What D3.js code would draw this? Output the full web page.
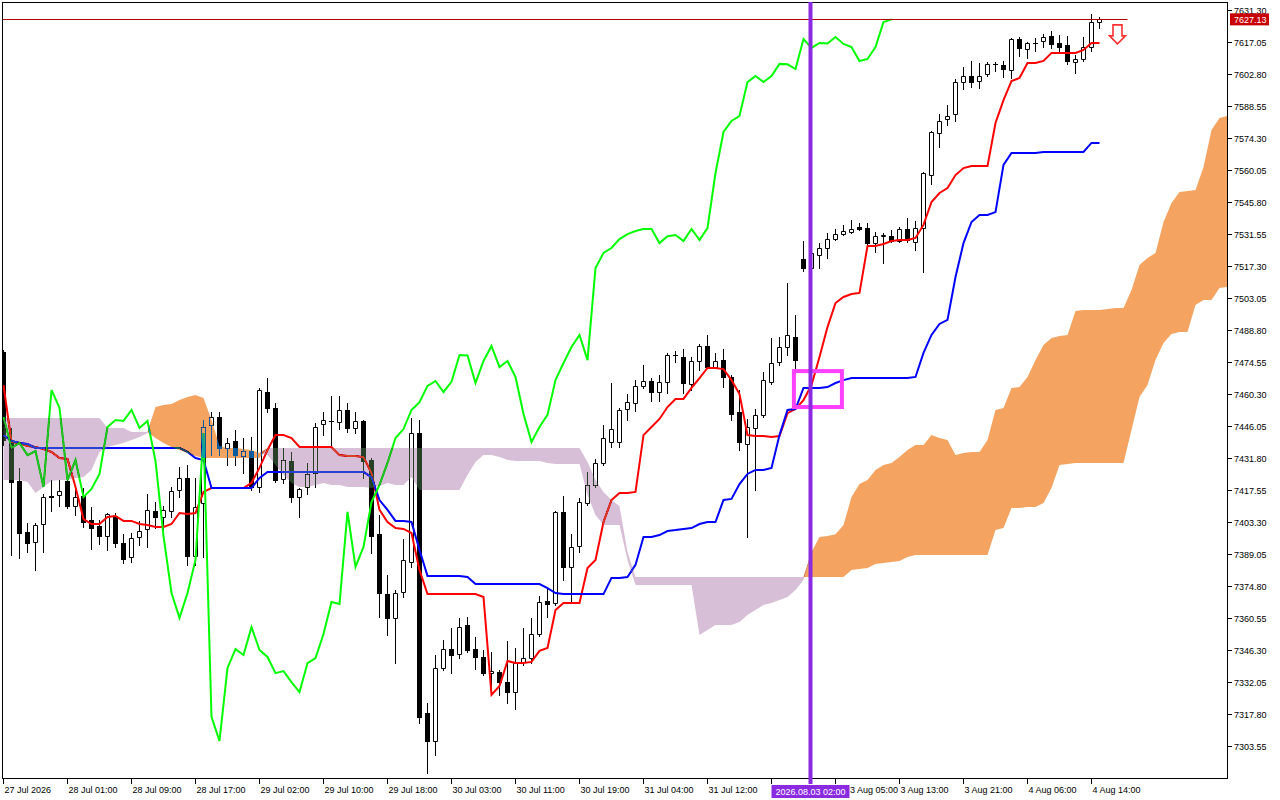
<!DOCTYPE html>
<html><head><meta charset="utf-8">
<script src="https://cdn.jsdelivr.net/npm/d3@7"></script>
<style>
html,body{margin:0;padding:0;background:#fff;}
svg{display:block;}
text{font-family:"Liberation Sans","DejaVu Sans",sans-serif;font-size:9px;fill:#000;}
</style></head><body>
<svg id="chart" width="1280" height="800"></svg>
<script>
// ---------- DATA (hourly candles, bar index 0..137) ----------
const opens = [7479.0,7439.8,7421.6,7398.8,7394.4,7402.4,7414.9,7415.3,7421.6,7410.4,
7414.9,7404.2,7401.5,7397.1,7406.0,7394.0,7387.7,7396.6,7400.2,7408.2,
7405.5,7408.2,7417.6,7422.9,7388.2,7411.8,7446.5,7450.1,7436.3,7439.4,
7432.7,7434.9,7418.9,7461.2,7454.1,7422.4,7430.5,7414.4,7418.9,7425.1,
7446.9,7448.5,7447.8,7453.2,7445.2,7448.3,7430.9,7397.9,7371.2,7360.6,
7372.1,7385.5,7442.9,7318.3,7305.8,7338.3,7346.7,7344.5,7357.4,7346.7,
7343.2,7336.0,7336.5,7332.0,7327.6,7341.0,7342.7,7353.4,7368.1,7367.2,
7407.8,7383.3,7392.6,7411.8,7419.8,7429.6,7438.9,7438.9,7453.6,7456.3,
7463.9,7466.1,7461.2,7465.7,7477.7,7476.8,7464.8,7475.0,7481.7,7472.3,
7475.4,7467.9,7452.3,7438.0,7445.2,7451.0,7465.7,7474.5,7481.2,7485.7,
7520.4,7516.4,7522.2,7525.3,7529.3,7531.5,7532.4,7534.7,7534.2,7527.5,
7530.6,7530.6,7528.4,7533.8,7528.0,7534.2,7557.8,7576.5,7582.7,7585.0,
7599.2,7601.9,7599.7,7602.8,7607.3,7606.8,7604.6,7618.4,7613.9,7616.6,
7617.5,7619.7,7616.6,7615.7,7608.1,7609.5,7614.8,7626.0];
const highs = [7479.9,7445.2,7427.4,7402.9,7403.0,7415.8,7422.0,7422.0,7422.9,7418.4,
7418.4,7410.0,7404.2,7407.3,7407.3,7397.9,7398.4,7403.8,7415.8,7412.2,
7410.4,7418.9,7427.8,7428.7,7422.9,7448.7,7452.3,7452.3,7440.7,7444.3,
7440.7,7441.2,7463.0,7467.4,7456.3,7436.3,7434.5,7418.4,7429.6,7447.4,
7452.3,7459.4,7459.4,7456.3,7452.3,7448.7,7431.8,7406.4,7379.7,7373.0,
7395.7,7449.6,7448.7,7322.7,7344.1,7350.7,7356.1,7360.6,7361.0,7352.1,
7346.3,7345.4,7337.4,7350.3,7347.2,7356.1,7360.6,7370.3,7373.5,7408.2,
7414.9,7397.9,7414.0,7425.6,7431.3,7446.5,7465.2,7454.1,7460.3,7466.5,
7473.2,7467.4,7468.8,7478.6,7479.4,7480.3,7476.8,7482.6,7486.6,7478.6,
7480.3,7468.8,7462.1,7449.2,7453.6,7470.1,7485.2,7485.7,7509.7,7495.5,
7528.4,7526.0,7527.5,7532.0,7533.8,7535.6,7537.8,7536.4,7536.4,7532.4,
7532.0,7533.3,7534.7,7538.7,7537.3,7559.2,7577.2,7585.0,7589.0,7600.6,
7605.9,7608.6,7607.7,7608.1,7608.1,7608.6,7618.8,7619.3,7617.0,7618.8,
7620.6,7621.9,7620.2,7619.7,7611.2,7619.3,7629.5,7628.2];
const lows = [7437.6,7388.6,7387.3,7389.9,7381.9,7389.9,7408.2,7410.4,7409.5,7406.4,
7401.1,7391.3,7393.5,7390.8,7392.2,7385.0,7385.5,7393.1,7392.2,7400.6,
7398.8,7405.5,7414.4,7384.1,7384.1,7387.7,7433.1,7433.1,7428.7,7428.7,
7425.1,7417.6,7416.7,7452.3,7421.1,7420.7,7412.2,7405.5,7415.8,7418.9,
7442.1,7436.7,7444.7,7443.4,7442.9,7422.9,7389.5,7361.0,7353.0,7340.5,
7369.9,7383.3,7313.8,7291.5,7299.5,7337.4,7336.0,7342.7,7345.4,7337.8,
7335.2,7327.6,7326.2,7322.7,7320.0,7339.6,7340.5,7352.5,7361.0,7366.3,
7377.5,7367.2,7389.9,7410.9,7418.9,7428.7,7436.7,7436.7,7448.7,7452.7,
7463.0,7457.2,7457.2,7460.8,7474.5,7460.8,7462.1,7471.0,7471.9,7471.9,
7463.4,7448.7,7435.4,7396.6,7417.6,7450.1,7464.8,7473.2,7477.7,7471.9,
7515.1,7514.0,7516.4,7520.9,7529.0,7531.1,7532.0,7533.3,7527.1,7523.5,
7518.6,7528.0,7528.0,7528.0,7524.4,7514.6,7553.8,7570.3,7580.1,7581.9,
7596.1,7597.0,7596.6,7601.9,7604.1,7601.5,7601.0,7610.8,7609.9,7613.0,
7614.8,7614.4,7612.2,7607.3,7603.2,7608.6,7613.0,7623.3];
const closes = [7439.8,7421.1,7398.4,7394.0,7402.0,7414.4,7414.4,7417.1,7410.4,7414.4,
7403.3,7400.6,7397.1,7406.9,7394.0,7386.8,7396.2,7399.3,7408.7,7405.5,
7408.7,7417.1,7422.9,7388.2,7410.0,7445.6,7450.1,7436.3,7438.5,7433.1,
7434.9,7418.9,7462.1,7454.1,7422.0,7430.9,7414.4,7418.0,7424.7,7445.6,
7448.7,7448.3,7453.2,7445.2,7448.3,7430.5,7397.1,7371.7,7360.6,7371.7,
7386.4,7442.9,7316.5,7305.8,7338.3,7346.7,7344.1,7356.5,7346.3,7343.2,
7336.0,7336.9,7332.0,7327.6,7340.5,7342.7,7353.4,7367.7,7366.8,7407.8,
7383.3,7392.2,7412.2,7419.8,7429.6,7440.7,7444.7,7453.2,7456.7,7463.9,
7466.1,7461.2,7465.7,7477.7,7477.5,7465.2,7475.0,7481.7,7472.3,7475.0,
7467.9,7451.4,7438.9,7445.6,7451.0,7466.5,7474.1,7481.2,7486.6,7475.4,
7516.4,7523.1,7525.3,7529.3,7531.5,7532.9,7533.8,7533.8,7527.5,7530.6,
7531.1,7528.4,7533.8,7528.9,7534.2,7558.7,7577.0,7581.9,7584.1,7599.2,
7601.9,7599.2,7601.9,7607.3,7607.1,7605.0,7618.4,7614.4,7616.6,7616.4,
7619.3,7616.2,7614.8,7608.6,7609.5,7614.8,7625.9,7627.13];

// Ichimoku lines
const tenkan = [7464.3,7438.9,7438.5,7437.1,7436.7,7435.8,7434.5,7431.8,7431.4,7418.9,
7404.6,7402.4,7402.4,7405.5,7406.0,7403.8,7403.8,7402.4,7402.0,7401.1,
7401.1,7402.4,7407.3,7406.9,7407.3,7416.7,7418.4,7418.4,7418.4,7418.4,
7418.4,7420.7,7427.4,7435.4,7442.0,7442.0,7440.7,7436.7,7436.7,7436.7,
7436.7,7436.7,7433.1,7432.7,7432.7,7432.2,7425.1,7408.7,7403.3,7400.6,
7400.2,7398.4,7381.9,7371.2,7371.2,7371.2,7371.2,7371.2,7371.2,7371.2,
7369.9,7326.3,7330.3,7341.4,7340.5,7340.5,7341.0,7345.9,7347.2,7364.1,
7367.2,7367.2,7367.2,7382.8,7386.4,7403.3,7413.1,7416.2,7416.2,7416.7,
7442.0,7445.6,7449.2,7454.5,7458.1,7458.1,7463.0,7467.4,7471.9,7471.9,
7471.4,7466.5,7460.3,7442.0,7441.6,7441.6,7441.2,7441.6,7451.8,7453.6,
7457.6,7464.3,7476.8,7490.1,7500.8,7503.5,7504.8,7505.3,7526.2,7526.2,
7527.1,7528.4,7528.9,7528.9,7529.8,7535.6,7545.8,7549.8,7552.0,7557.8,
7560.9,7561.8,7561.8,7561.8,7581.0,7591.2,7599.7,7601.0,7607.7,7607.7,
7608.6,7612.2,7612.2,7612.2,7612.2,7613.5,7616.6,7616.6];
const kijun = [7442.0,7439.4,7438.5,7438.0,7436.3,7436.3,7436.3,7436.3,7436.3,7436.3,
7436.3,7436.3,7436.3,7436.3,7436.3,7436.3,7436.3,7436.3,7436.3,7436.3,
7436.3,7436.3,7436.3,7434.5,7431.8,7430.9,7418.4,7418.4,7418.4,7418.4,
7418.4,7418.4,7422.9,7425.6,7425.6,7425.6,7425.6,7425.6,7425.6,7425.6,
7425.6,7425.6,7425.6,7425.6,7425.6,7425.6,7423.3,7413.1,7408.7,7403.8,
7403.8,7403.3,7390.8,7379.3,7379.3,7379.3,7379.3,7379.3,7378.8,7375.7,
7375.7,7375.7,7375.7,7375.7,7375.7,7375.7,7375.7,7375.7,7373.9,7371.7,
7371.2,7371.2,7371.2,7371.2,7371.2,7371.2,7378.4,7378.4,7378.8,7384.2,
7396.6,7396.6,7397.5,7399.3,7399.7,7400.2,7400.6,7402.4,7403.3,7403.3,
7413.1,7413.6,7420.2,7424.7,7426.5,7426.5,7427.4,7442.0,7453.2,7453.6,
7463.0,7463.0,7463.0,7463.4,7465.2,7466.5,7467.4,7467.4,7467.4,7467.4,
7467.4,7467.4,7467.4,7467.4,7467.9,7478.6,7486.6,7491.5,7493.3,7512.4,
7527.5,7536.9,7540.0,7540.0,7541.3,7562.3,7567.6,7567.6,7567.6,7567.6,
7568.1,7568.1,7568.1,7568.1,7568.1,7568.1,7572.1,7572.1];
// Senkou spans, already placed on the bar where they are drawn (index 0..153)
const spanA = [7422.0,7422.0,7422.0,7421.1,7416.2,7418.9,7421.6,7422.0,7422.0,7422.9,
7423.3,7426.5,7434.5,7436.7,7437.6,7438.5,7439.8,7441.2,7442.9,7454.5,
7455.4,7455.9,7457.6,7459.0,7459.9,7458.5,7448.7,7437.1,7436.3,7436.3,
7435.8,7435.4,7434.0,7433.1,7428.7,7424.2,7420.7,7418.9,7418.9,7419.8,
7420.7,7419.8,7419.8,7418.9,7418.9,7418.9,7418.4,7419.3,7420.7,7419.8,
7419.8,7423.3,7417.6,7417.6,7417.6,7417.6,7417.6,7417.6,7424.2,7430.0,
7433.1,7433.1,7432.2,7430.9,7430.5,7430.5,7430.5,7430.5,7429.6,7429.1,
7429.1,7429.1,7429.1,7415.3,7406.4,7402.0,7402.0,7402.0,7386.4,7375.3,
7375.3,7375.3,7375.3,7375.3,7375.3,7375.3,7375.3,7353.0,7355.2,7357.4,
7357.4,7357.4,7358.8,7361.9,7364.1,7366.3,7367.2,7368.6,7369.9,7373.0,
7377.5,7389.9,7396.6,7397.1,7397.9,7402.0,7414.4,7420.2,7422.0,7426.5,
7428.7,7429.6,7432.2,7435.4,7437.6,7437.6,7442.0,7440.7,7439.8,7433.1,
7434.0,7434.5,7434.5,7439.8,7453.2,7454.1,7463.0,7463.4,7467.9,7475.4,
7482.1,7485.2,7486.1,7486.6,7497.3,7497.7,7497.7,7497.7,7498.2,7498.6,
7498.6,7506.6,7517.7,7520.9,7523.1,7536.9,7545.4,7550.3,7550.7,7551.1,
7561.4,7577.9,7583.2,7584.1];
const spanB = [7449.6,7449.6,7449.6,7449.6,7449.6,7449.6,7449.6,7449.6,7449.6,7449.6,
7449.6,7449.6,7449.6,7445.2,7445.2,7445.2,7443.4,7443.4,7443.4,7440.7,
7438.5,7436.7,7435.4,7434.0,7432.7,7431.8,7431.8,7431.8,7431.8,7431.8,
7431.8,7431.8,7431.8,7436.3,7436.3,7436.3,7436.3,7436.3,7436.3,7436.3,
7436.3,7436.3,7436.3,7436.3,7436.3,7436.3,7436.3,7436.3,7436.3,7436.3,
7436.3,7436.3,7436.3,7436.3,7436.3,7436.3,7436.3,7436.3,7436.3,7436.3,
7436.3,7436.3,7436.3,7436.3,7436.3,7436.3,7436.3,7436.3,7436.3,7436.3,
7436.3,7436.3,7436.3,7430.0,7422.0,7416.7,7413.1,7410.4,7389.9,7378.8,
7378.8,7378.8,7378.8,7378.8,7378.8,7378.8,7378.8,7378.8,7378.8,7378.8,
7378.8,7378.8,7378.8,7378.8,7378.8,7378.8,7378.8,7378.8,7378.8,7378.8,
7378.8,7378.8,7378.8,7378.8,7378.8,7378.8,7381.9,7382.4,7382.8,7384.6,
7385.0,7385.5,7385.9,7387.7,7388.6,7388.6,7388.6,7388.6,7388.6,7388.6,
7388.6,7388.6,7388.6,7388.6,7399.7,7400.6,7409.5,7409.5,7410.0,7410.0,
7411.8,7418.4,7428.7,7429.1,7429.6,7429.6,7429.6,7429.6,7429.6,7429.6,
7429.6,7444.3,7459.0,7464.3,7475.4,7483.0,7487.0,7487.9,7487.9,7499.9,
7502.2,7502.2,7507.5,7508.0];
const chikouShift = 26;

const priceTicks = [7631.30,7617.05,7602.80,7588.55,7574.30,7560.05,7545.80,7531.55,7517.30,7503.05,
7488.80,7474.55,7460.30,7446.05,7431.80,7417.55,7403.30,7389.05,7374.80,7360.55,
7346.30,7332.05,7317.80,7303.55];
// tick at bar 96 exists in the terminal, but its label is fully covered by the marker label
const timeTickBars = [0,8,16,24,32,40,48,56,64,72,80,88,96,104,112,120,128,136];
const timeTickLabels = ["27 Jul 2026","28 Jul 01:00","28 Jul 09:00","28 Jul 17:00","29 Jul 02:00",
"29 Jul 10:00","29 Jul 18:00","30 Jul 03:00","30 Jul 11:00","30 Jul 19:00","31 Jul 04:00",
"31 Jul 12:00","","3 Aug 05:00","3 Aug 13:00","3 Aug 21:00","4 Aug 06:00","4 Aug 14:00"];
const lastPrice = 7627.13;
const priceLineEndBar = 140.5;
const markerBar = 101;
const markerLabel = "2026.08.03 02:00";
const boxBars = [98.8, 104.8];
const boxPrices = [7470.5, 7454.5];
const arrowBar = 139.25;
const arrowPrice = 7616.2;

// ---------- LAYOUT ----------
const plot = {left:2, top:2, right:1227, bottom:778};
const yDomain = [7289.31, 7635.75];
const svg = d3.select('#chart');
const x = d3.scaleLinear().domain([0,1]).range([3.5, 11.5]);
const y = d3.scaleLinear().domain(yDomain).range([plot.bottom, 0]);

svg.append('rect').attr('width',1280).attr('height',800).attr('fill','#fff');
svg.append('defs').append('clipPath').attr('id','clip').append('rect')
  .attr('x',plot.left).attr('y',plot.top)
  .attr('width',plot.right-plot.left).attr('height',plot.bottom-plot.top);

const g = svg.append('g').attr('clip-path','url(#clip)');
// white backdrop inside the (isolated) clipped group so the blend has something to act on
g.append('rect').attr('x',plot.left).attr('y',plot.top)
  .attr('width',plot.right-plot.left).attr('height',plot.bottom-plot.top).attr('fill','#fff');

// candles
const bars = closes.map((c,i)=>({i,o:opens[i],h:highs[i],l:lows[i],c}));
g.append('g').selectAll('line').data(bars).join('line')
  .attr('x1',d=>x(d.i)).attr('x2',d=>x(d.i))
  .attr('y1',d=>Math.round(y(d.h))).attr('y2',d=>Math.round(y(d.l))+1)
  .attr('stroke','#000').attr('stroke-width',1);
const bodies = g.append('g');
bars.forEach(d=>{
  const yo=Math.round(y(d.o)), yc=Math.round(y(d.c));
  const top=Math.min(yo,yc), bot=Math.max(yo,yc);
  const cx=x(d.i);
  if (d.c>=d.o) {
    bodies.append('path')
      .attr('d',`M${cx-2},${top+0.5}H${cx+2}V${bot+0.5}H${cx-2}Z`)
      .attr('fill','#fff').attr('stroke','#000').attr('stroke-width',1);
  } else {
    bodies.append('rect').attr('x',cx-2.5).attr('y',top)
      .attr('width',5).attr('height',bot-top+1).attr('fill','#000');
  }
});

// Ichimoku lines
const line = d3.line().x(d=>x(d[0])).y(d=>y(d[1]));
g.append('path').datum(tenkan.map((v,i)=>[i,v])).attr('d',line)
  .attr('fill','none').attr('stroke','#ff0000').attr('stroke-width',2);
g.append('path').datum(kijun.map((v,i)=>[i,v])).attr('d',line)
  .attr('fill','none').attr('stroke','#0000ff').attr('stroke-width',2);
const chikou = d3.range(closes.length-chikouShift).map(j=>[j, closes[j+chikouShift]]);
g.append('path').datum(chikou).attr('d',line)
  .attr('fill','none').attr('stroke','#00ff00').attr('stroke-width',2);

// Kumo (drawn with difference blend, like the terminal's XOR fill)
const idx = d3.range(spanA.length);
const upArea = d3.area().x(i=>x(i)).y0(i=>y(spanB[i])).y1(i=>y(Math.max(spanA[i],spanB[i])));
const dnArea = d3.area().x(i=>x(i)).y0(i=>y(spanA[i])).y1(i=>y(Math.max(spanA[i],spanB[i])));
g.append('path').datum(idx).attr('d',upArea).attr('fill','#0b5b9f')
  .style('mix-blend-mode','difference');
g.append('path').datum(idx).attr('d',dnArea).attr('fill','#274027')
  .style('mix-blend-mode','difference');

// current price line
const yLast = Math.round(y(lastPrice))+0.5;
g.append('line').attr('x1',plot.left).attr('x2',x(priceLineEndBar))
  .attr('y1',yLast).attr('y2',yLast).attr('stroke','#b40000').attr('stroke-width',1);

// rectangle annotation
g.append('rect')
  .attr('x',x(boxBars[0])).attr('y',y(boxPrices[0]))
  .attr('width',x(boxBars[1])-x(boxBars[0])).attr('height',y(boxPrices[1])-y(boxPrices[0]))
  .attr('fill','none').attr('stroke','#ff40ff').attr('stroke-width',4);

// sell arrow
const ax = x(arrowBar), ay = y(arrowPrice);
g.append('path')
  .attr('d',`M${ax},${ay} L${ax-8},${ay-8} L${ax-4.5},${ay-8} L${ax-4.5},${ay-19} L${ax+4.5},${ay-19} L${ax+4.5},${ay-8} L${ax+8},${ay-8} Z`)
  .attr('fill','#fff').attr('stroke','#ff3030').attr('stroke-width',1.6).attr('stroke-linejoin','miter');

// frame
svg.append('rect').attr('x',plot.left+0.5).attr('y',plot.top+0.5)
  .attr('width',plot.right-plot.left).attr('height',plot.bottom-plot.top)
  .attr('fill','none').attr('stroke','#000').attr('stroke-width',1);

// vertical marker line
svg.append('line').attr('x1',x(markerBar)-1).attr('x2',x(markerBar)-1)
  .attr('y1',plot.top).attr('y2',plot.bottom+6)
  .attr('stroke','#8a2be2').attr('stroke-width',4);

// price axis
const pa = svg.append('g');
priceTicks.forEach(p=>{
  const yy = Math.round(y(p))+0.5;
  pa.append('line').attr('x1',plot.right+0.5).attr('x2',plot.right+5)
    .attr('y1',yy).attr('y2',yy).attr('stroke','#000');
  pa.append('text').attr('x',plot.right+7).attr('y',yy+3.5).text(p.toFixed(2));
});
// last price label
const yl = y(lastPrice);
pa.append('rect').attr('x',plot.right+3).attr('y',yl-6).attr('width',39).attr('height',12).attr('fill','#c80000');
pa.append('text').attr('x',plot.right+7).attr('y',yl+3.5).style('fill','#fff').text(lastPrice.toFixed(2));

// time axis
const ta = svg.append('g');
const mx = x(markerBar)-1;
const markerHalf = 39;
timeTickBars.forEach((b,k)=>{
  const xx = x(b);
  ta.append('line').attr('x1',xx).attr('x2',xx).attr('y1',plot.bottom).attr('y2',plot.bottom+6).attr('stroke','#000');
  if (!timeTickLabels[k]) return;
  // a label that would start under the marker label is nudged just right of it
  const lx = (xx+1 > mx-markerHalf && xx+1 < mx+markerHalf) ? mx+markerHalf+0.5 : xx+1;
  ta.append('text').attr('x',lx).attr('y',793).text(timeTickLabels[k]);
});
// marker label on time axis
ta.append('rect').attr('x',mx-markerHalf).attr('y',785).attr('width',markerHalf*2).attr('height',13).attr('fill','#8a2be2');
ta.append('text').attr('x',mx).attr('y',795).attr('text-anchor','middle').style('fill','#fff').text(markerLabel);
</script>
</body></html>
